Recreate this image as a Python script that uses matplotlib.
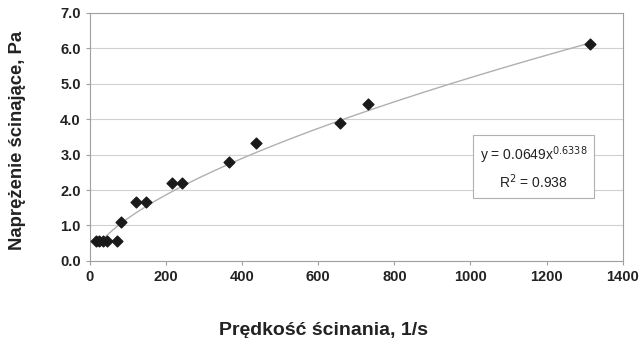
import matplotlib.pyplot as plt
import numpy as np

plt.rcParams['font.family'] = ['Liberation Sans', 'DejaVu Sans']

shear_rate = [15, 24, 35, 46, 72, 81, 120, 147, 217, 243, 365, 437, 656, 731, 1315]
shear_stress = [0.57, 0.57, 0.57, 0.57, 0.57, 1.11, 1.67, 1.67, 2.2, 2.2, 2.79, 3.32, 3.89, 4.43, 6.11]

a = 0.0649
b = 0.6338
r2 = 0.938

fig = plt.figure(figsize=(6.42, 3.38), dpi=100)
ax = fig.add_axes([0.140, 0.228, 0.830, 0.734])

xs = np.linspace(25, max(shear_rate), 300)
ax.plot(xs, a * xs ** b, color='#b0b0b0', lw=1.0, zorder=2)
ax.scatter(shear_rate, shear_stress, marker='D', s=30, color='#1a1a1a', zorder=3)

ax.set_xlim(0, 1400)
ax.set_ylim(0, 7)
ax.set_xticks(range(0, 1401, 200))
ax.set_yticks(np.arange(0, 7.1, 1.0))
ax.set_yticklabels([f"{v:.1f}" for v in np.arange(0, 7.1, 1.0)])
ax.yaxis.grid(True, color='#d0d0d0', lw=0.8)
ax.set_axisbelow(True)

for s in ax.spines.values():
    s.set_color('#a0a0a0')
ax.tick_params(colors='#a0a0a0', labelcolor='#222222', length=3)
for lab in ax.get_xticklabels() + ax.get_yticklabels():
    lab.set_fontweight('bold')
    lab.set_fontsize(10.5)

fig.text(324 / 642, 3 / 338, "Prędkość ścinania, 1/s", fontsize=14, fontweight='bold',
         color='#222222', ha='center', va='baseline')
fig.text(18 / 642, 1 - 140 / 338, "Naprężenie ścinające, Pa", fontsize=13.3, fontweight='bold',
         color='#222222', ha='center', va='center', rotation=90)

ax.text(1165, 2.63, f"y = {a}x$^{{{b}}}$\nR$^2$ = {r2}", ha='center', va='center',
        fontsize=10, color='#222222', linespacing=1.4,
        bbox=dict(boxstyle='square,pad=0.5', fc='white', ec='#b0b0b0', lw=0.8))

fig.savefig("out.png")
